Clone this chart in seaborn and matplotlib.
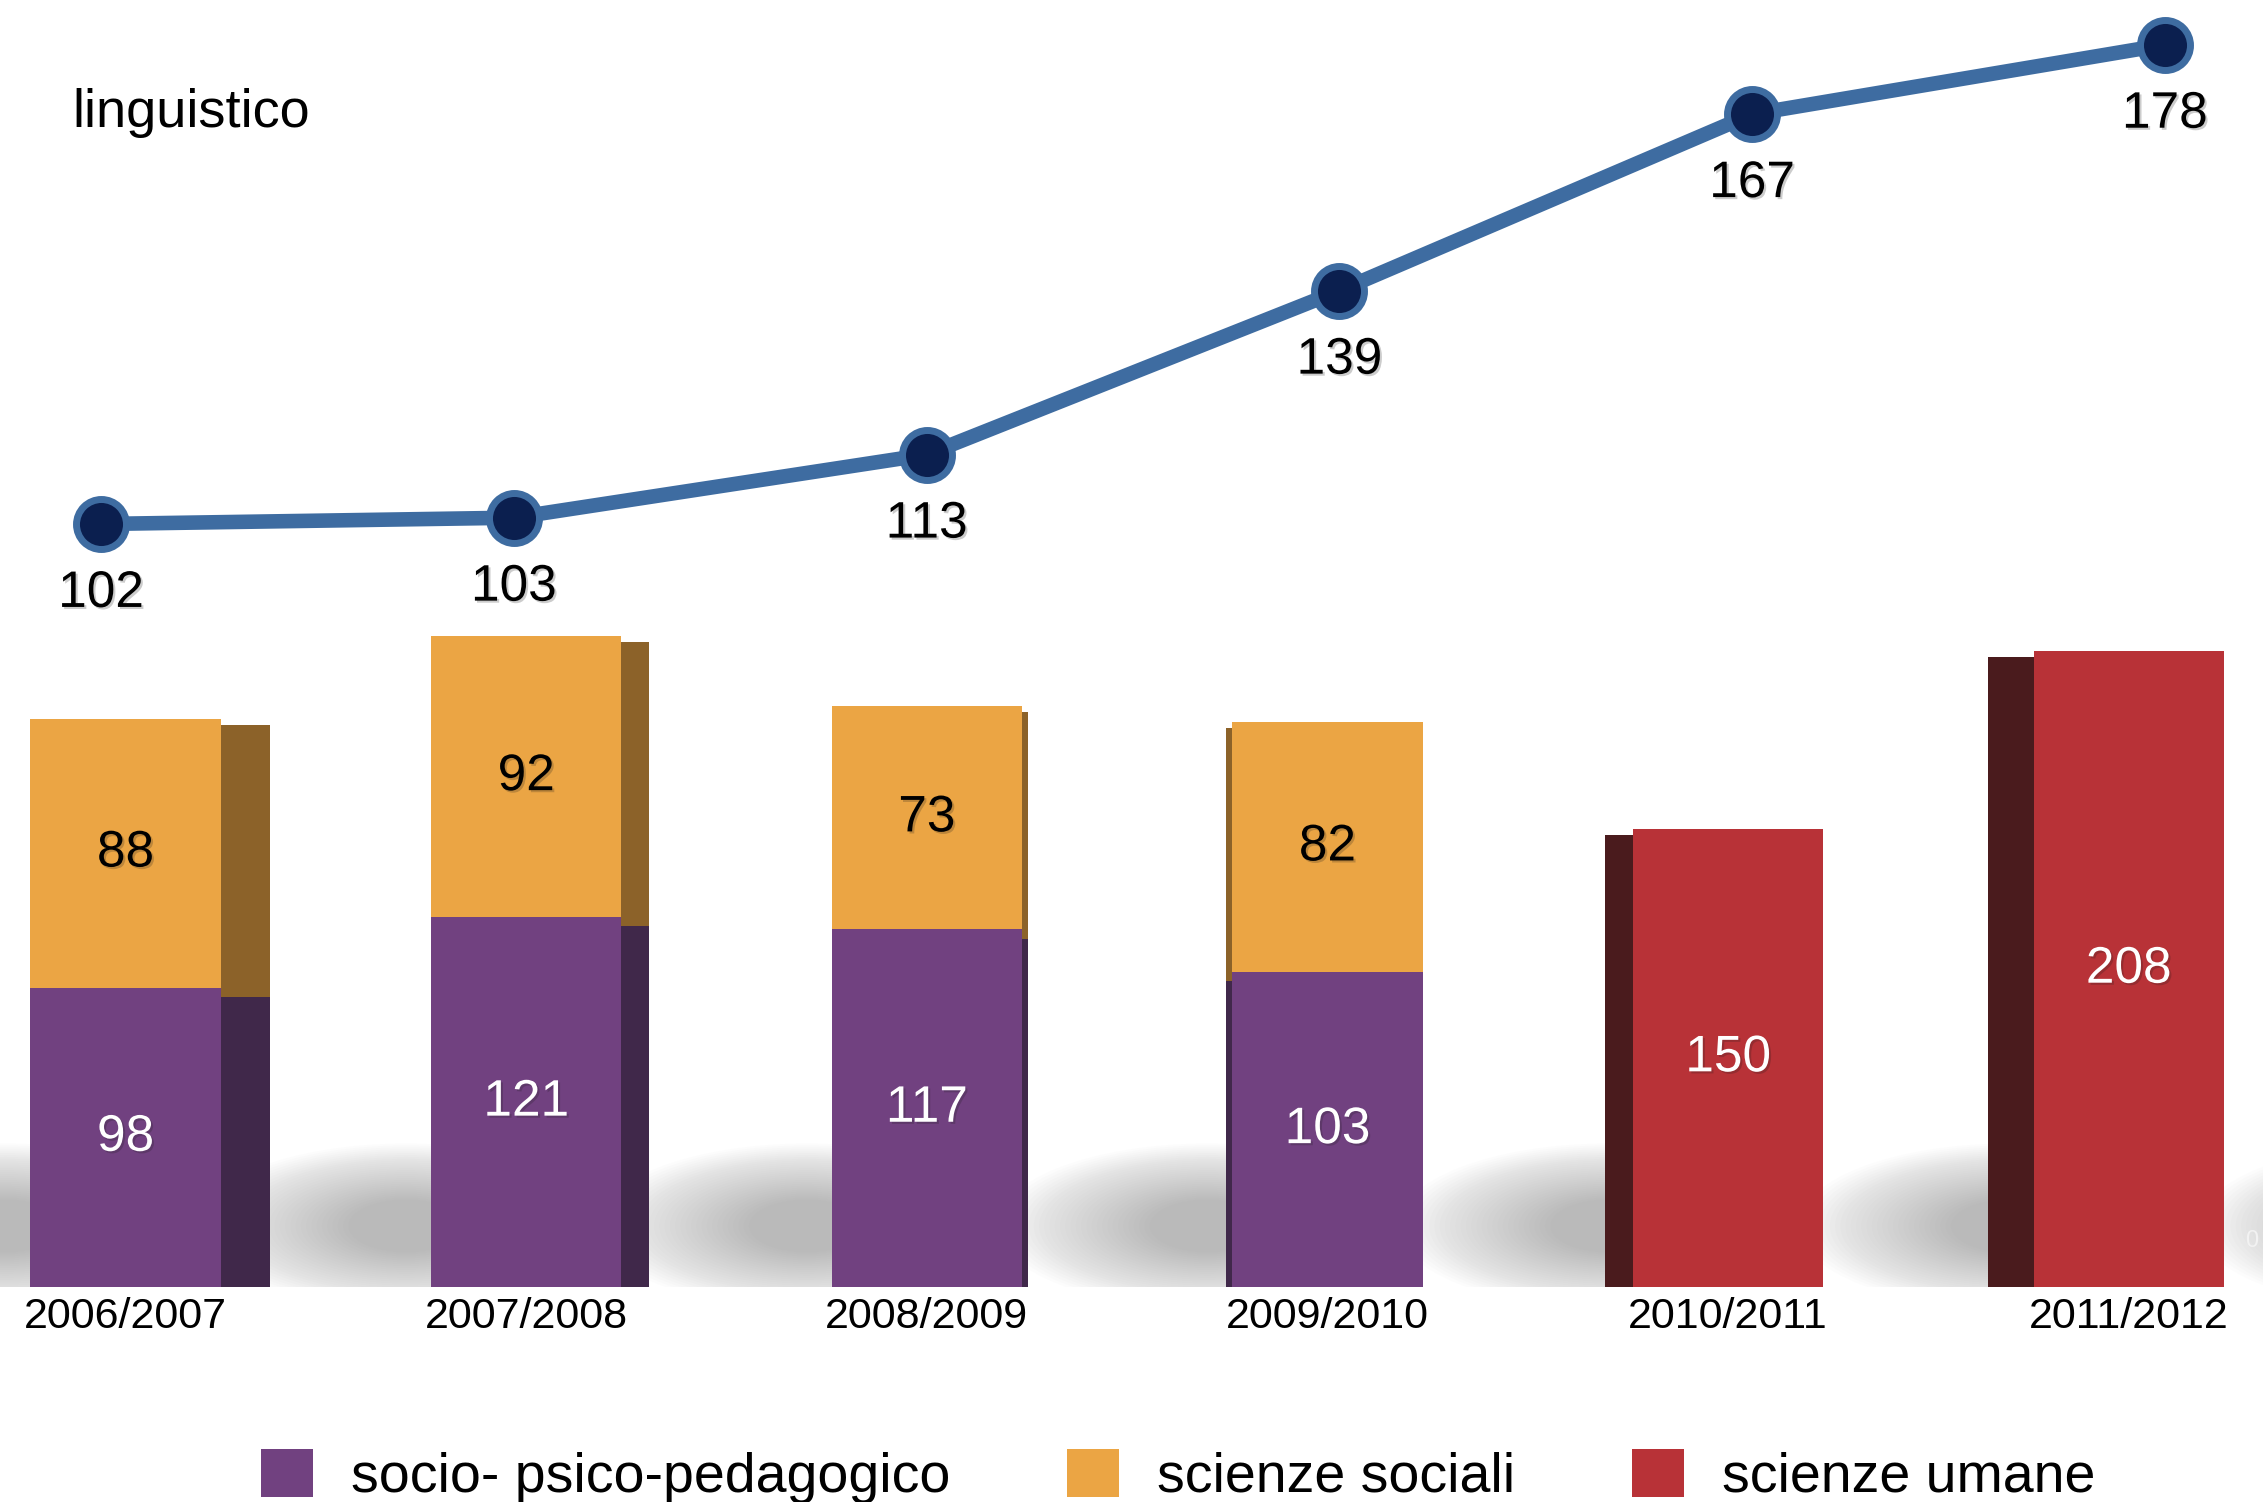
import numpy as np
import seaborn as sns
import matplotlib.pyplot as plt
import matplotlib.patheffects as pe
from matplotlib.patches import Ellipse, Patch

# dati
anni = ["2006/2007", "2007/2008", "2008/2009", "2009/2010", "2010/2011", "2011/2012"]
socio_psico = [98, 121, 117, 103, 0, 0]
scienze_sociali = [88, 92, 73, 82, 0, 0]
scienze_umane = [0, 0, 0, 0, 150, 208]
linguistico = [102, 103, 113, 139, 167, 178]

viola = "#714180"
arancio = "#EBA544"
rosso = "#B83237"
lato_viola = "#40284A"
lato_arancio = "#8C6229"
lato_rosso = "#4A1B1D"
blu = "#3E6CA1"

sns.set_theme(style="white")
plt.rcParams['font.family'] = ['Liberation Sans', 'DejaVu Sans']
plt.rcParams['text.color'] = 'black'

fig = plt.figure(figsize=(22.63, 15.02), dpi=100)
fig.patch.set_facecolor("white")

# assi delle barre
ax = fig.add_axes([0, 0.1431, 1, 0.8569])
ax.set_facecolor("none")

# ombre sul pavimento (sfumate)
n = 30
for i in list(range(len(anni))) + [6]:
    for k in range(n):
        f = k / n
        e = Ellipse((i - 0.3, 20), 1.05 * (1 - 0.75 * f), 54 * (1 - 0.7 * f),
                    color="#808080", alpha=0.02, lw=0, zorder=0)
        ax.add_patch(e)

totali = np.array(socio_psico) + np.array(scienze_sociali)
w = 0.475
sns.barplot(x=anni, y=totali, color=arancio, width=w, saturation=1, linewidth=0,
            ax=ax, zorder=3)
sns.barplot(x=anni, y=socio_psico, color=viola, width=w, saturation=1, linewidth=0,
            ax=ax, zorder=4)
sns.barplot(x=anni, y=scienze_umane, color=rosso, width=w, saturation=1, linewidth=0,
            ax=ax, zorder=4)

# facce laterali (effetto 3D)
lati = [0.126, 0.072, 0.018, 0.018, 0.072, 0.115]
verso = [1, 1, 1, -1, -1, -1]
for i in range(len(anni)):
    xs = i + verso[i] * (w / 2 + lati[i] / 2 - 0.002)
    if socio_psico[i] > 0:
        ax.bar(xs, totali[i] - 2, width=lati[i], color=lato_arancio, zorder=2, lw=0)
        ax.bar(xs, socio_psico[i] - 3, width=lati[i], color=lato_viola, zorder=2, lw=0)
    if scienze_umane[i] > 0:
        ax.bar(xs, scienze_umane[i] - 2, width=lati[i], color=lato_rosso, zorder=2, lw=0)

ombra = [pe.withSimplePatchShadow(offset=(1.5, -1.5), shadow_rgbFace="k", alpha=0.22)]
for i in range(len(anni)):
    if socio_psico[i] > 0:
        ax.text(i, socio_psico[i] / 2, str(socio_psico[i]), ha="center", va="center",
                fontsize=37, color="white", zorder=6, path_effects=ombra)
        ax.text(i, socio_psico[i] + scienze_sociali[i] / 2, str(scienze_sociali[i]),
                ha="center", va="center", fontsize=37, color="black", zorder=6,
                path_effects=ombra)
    if scienze_umane[i] > 0:
        ax.text(i, scienze_umane[i] / 2, str(scienze_umane[i]), ha="center", va="center",
                fontsize=37, color="white", zorder=6, path_effects=ombra)

ax.set_xlim(-0.3134, 5.335)
ax.set_ylim(0, 421.1)
ax.set_yticks([])
ax.set_xlabel("")
ax.set_ylabel("")
ax.tick_params(axis="x", length=0, pad=7, labelsize=31, labelcolor="black")
sns.despine(ax=ax, left=True, bottom=True)

# assi della linea
ax2 = fig.add_axes([0, 0, 1, 1])
ax2.set_facecolor("none")
xl = np.arange(len(linguistico))
sns.lineplot(x=xl, y=linguistico, color=blu, linewidth=10.5, marker="o",
             markersize=36, markerfacecolor="#0B1F4F", markeredgecolor=blu,
             markeredgewidth=5, ax=ax2, zorder=5)
for i, v in enumerate(linguistico):
    ax2.annotate(str(v), (i, v), xytext=(0, -50), textcoords="offset points",
                 ha="center", va="center", fontsize=37, color="black",
                 path_effects=ombra)
ax2.set_xlim(-0.2448, 5.2378)
ax2.set_ylim(-53.1, 185.1)
ax2.axis("off")

fig.text(0.032, 0.925, "linguistico", fontsize=39, ha="left", va="center", color="black")
fig.text(0.992, 0.174, "0", fontsize=17, ha="left", va="center", color="#f2f2f2")

maniglie = [Patch(facecolor=viola, edgecolor="none"),
            Patch(facecolor=arancio, edgecolor="none"),
            Patch(facecolor=rosso, edgecolor="none")]
fig.legend(maniglie, ["socio- psico-pedagogico", "scienze sociali", "scienze umane"],
           loc="center left", bbox_to_anchor=(0.1154, 0.017), ncol=3, frameon=False,
           fontsize=40, handlelength=0.94, handleheight=0.94, handletextpad=0.68,
           columnspacing=2.1, borderpad=0, borderaxespad=0, labelcolor="black")

fig.savefig("out.png", dpi=100, facecolor="white")
